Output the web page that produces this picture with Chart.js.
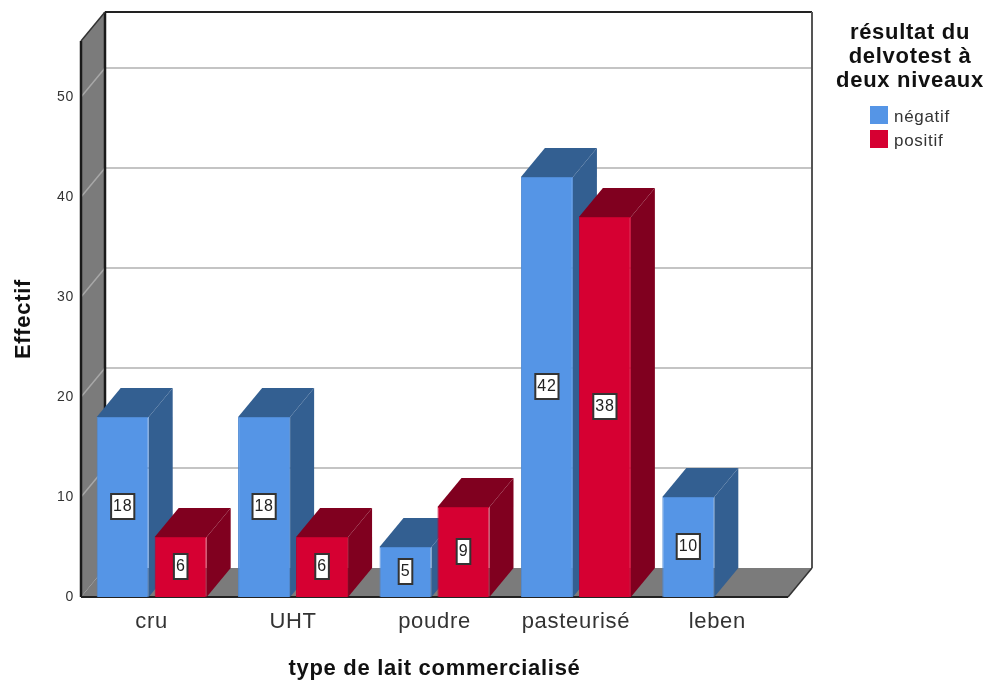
<!DOCTYPE html>
<html>
<head>
<meta charset="utf-8">
<title>Effectif par type de lait</title>
<script src="https://cdn.jsdelivr.net/npm/chart.js@4"></script>
<style>
    html, body { margin: 0; padding: 0; background: #fff; }
    #wrap { width: 987px; height: 682px; }
</style>
</head>
<body>
<div id="wrap"><canvas id="barChart"></canvas></div>
<script>
const categories = ['cru', 'UHT', 'poudre', 'pasteurisé', 'leben'];
const negatif = [18, 18, 5, 42, 10];
const positif = [6, 6, 9, 38, null];
const yTicks = [0, 10, 20, 30, 40, 50];
const legendTitle = ['résultat du', 'delvotest à', 'deux niveaux'];

const FONT = '"Liberation Sans", Arial, sans-serif';
const BLUE = '#5595e6', BLUE_DARK = '#335f91';
const RED = '#d60032', RED_DARK = '#80001f';
const WALL = '#7b7b7b';
// depth of the fake 3D box
const DX = 24, DY = 29;

function poly(ctx, pts, fill) {
    ctx.beginPath();
    pts.forEach((p, i) => i ? ctx.lineTo(p[0], p[1]) : ctx.moveTo(p[0], p[1]));
    ctx.closePath();
    ctx.fillStyle = fill;
    ctx.fill();
}

function line(ctx, x1, y1, x2, y2, color, w) {
    ctx.beginPath();
    ctx.moveTo(x1, y1);
    ctx.lineTo(x2, y2);
    ctx.strokeStyle = color;
    ctx.lineWidth = w;
    ctx.stroke();
}

const box3d = {
    id: 'box3d',
    beforeDraw(chart) {
        // reference text is a little wider than plain Liberation
        chart.ctx.letterSpacing = '0.7px';
    },
    beforeDatasetsDraw(chart) {
        const ctx = chart.ctx;
        const { left, right, top, bottom } = chart.chartArea;
        const y = chart.scales.y;
        ctx.save();

        // walls and floor
        poly(ctx, [[left, bottom], [left, top], [left + DX, top - DY], [left + DX, bottom - DY]], WALL);
        poly(ctx, [[left, bottom], [right, bottom], [right + DX, bottom - DY], [left + DX, bottom - DY]], WALL);

        // gridlines on the back wall and the side wall
        yTicks.slice(1).forEach(v => {
            const py = y.getPixelForValue(v);
            line(ctx, left + DX, py - DY, right + DX, py - DY, '#c4c4c4', 2);
            line(ctx, left, py, left + DX, py - DY, '#a8a8a8', 1.5);
        });

        // frame
        line(ctx, left + DX, top - DY, right + DX, top - DY, '#222', 2);
        line(ctx, right + DX, top - DY, right + DX, bottom - DY, '#555', 2);
        line(ctx, left + DX, top - DY, left + DX, bottom - DY, '#1a1a1a', 2.5);
        line(ctx, left, top, left, bottom, '#1a1a1a', 2.5);
        line(ctx, left, top, left + DX, top - DY, '#333', 1.5);
        line(ctx, left, bottom, right, bottom, '#222', 2);
        line(ctx, right, bottom, right + DX, bottom - DY, '#333', 1.5);

        // top and side faces of the bars
        chart.data.datasets.forEach((ds, d) => {
            const dark = d === 0 ? BLUE_DARK : RED_DARK;
            chart.getDatasetMeta(d).data.forEach((bar, i) => {
                if (ds.data[i] === null) return;
                const p = bar.getProps(['x', 'y', 'base', 'width']);
                const l = p.x - p.width / 2, r = p.x + p.width / 2;
                poly(ctx, [[l, p.y], [l + DX, p.y - DY], [r + DX, p.y - DY], [r, p.y]], dark);
                poly(ctx, [[r, p.y], [r + DX, p.y - DY], [r + DX, p.base - DY], [r, p.base]], dark);
            });
        });
        ctx.restore();
    },
    afterDatasetsDraw(chart) {
        const ctx = chart.ctx;
        ctx.save();
        ctx.font = '16px ' + FONT;
        ctx.textAlign = 'center';
        ctx.textBaseline = 'middle';
        chart.data.datasets.forEach((ds, d) => {
            chart.getDatasetMeta(d).data.forEach((bar, i) => {
                const val = ds.data[i];
                if (val === null) return;
                const p = bar.getProps(['x', 'y', 'base']);
                const cy = (p.y + p.base) / 2;
                const w = ctx.measureText(String(val)).width + 4;
                ctx.fillStyle = '#fff';
                ctx.fillRect(p.x - w / 2, cy - 13, w, 25);
                ctx.strokeStyle = '#333';
                ctx.lineWidth = 2;
                ctx.strokeRect(p.x - w / 2, cy - 13, w, 25);
                ctx.fillStyle = '#222';
                ctx.fillText(String(val), p.x, cy);
            });
        });

        // legend block on the right
        ctx.fillStyle = '#111';
        ctx.font = 'bold 22px ' + FONT;
        legendTitle.forEach((t, i) => ctx.fillText(t, 910, 33 + i * 24));
        ctx.textAlign = 'left';
        ctx.font = '17px ' + FONT;
        chart.data.datasets.forEach((ds, d) => {
            const ly = 106 + d * 24;
            ctx.fillStyle = ds.backgroundColor;
            ctx.fillRect(870, ly, 18, 18);
            ctx.fillStyle = '#333';
            ctx.fillText(ds.label, 894, ly + 11);
        });
        ctx.restore();
    }
};

new Chart(document.getElementById('barChart'), {
    type: 'bar',
    data: {
        labels: categories,
        datasets: [
            { label: 'négatif', data: negatif, backgroundColor: BLUE, borderColor: '#4f8ad4', borderWidth: 1 },
            { label: 'positif', data: positif, backgroundColor: RED, borderColor: '#c4002d', borderWidth: 1 }
        ]
    },
    plugins: [box3d],
    options: {
        responsive: true,
        maintainAspectRatio: false,
        animation: false,
        layout: { padding: { top: 41, right: 199, left: 0, bottom: 0 } },
        categoryPercentage: 0.82,
        barPercentage: 0.897,
        plugins: { legend: { display: false }, tooltip: { enabled: false } },
        scales: {
            x: {
                border: { display: false },
                grid: { display: false, drawTicks: false },
                ticks: { color: '#333', font: { family: FONT, size: 22 }, padding: 12, maxRotation: 0 },
                title: { display: true, text: 'type de lait commercialisé', color: '#111', font: { family: FONT, size: 22, weight: 'bold' }, padding: { top: 0, bottom: 0 } },
                afterFit: s => { s.height = 85; }
            },
            y: {
                min: 0,
                max: 55.6,
                border: { display: false },
                grid: { display: false, drawTicks: false },
                ticks: { color: '#333', font: { family: FONT, size: 14 }, padding: 7 },
                afterBuildTicks: s => { s.ticks = yTicks.map(value => ({ value })); },
                title: { display: true, text: 'Effectif', color: '#111', font: { family: FONT, size: 22, weight: 'bold' }, padding: { top: 11, bottom: 0 } },
                afterFit: s => { s.width = 81; }
            }
        }
    }
});
</script>
</body>
</html>
